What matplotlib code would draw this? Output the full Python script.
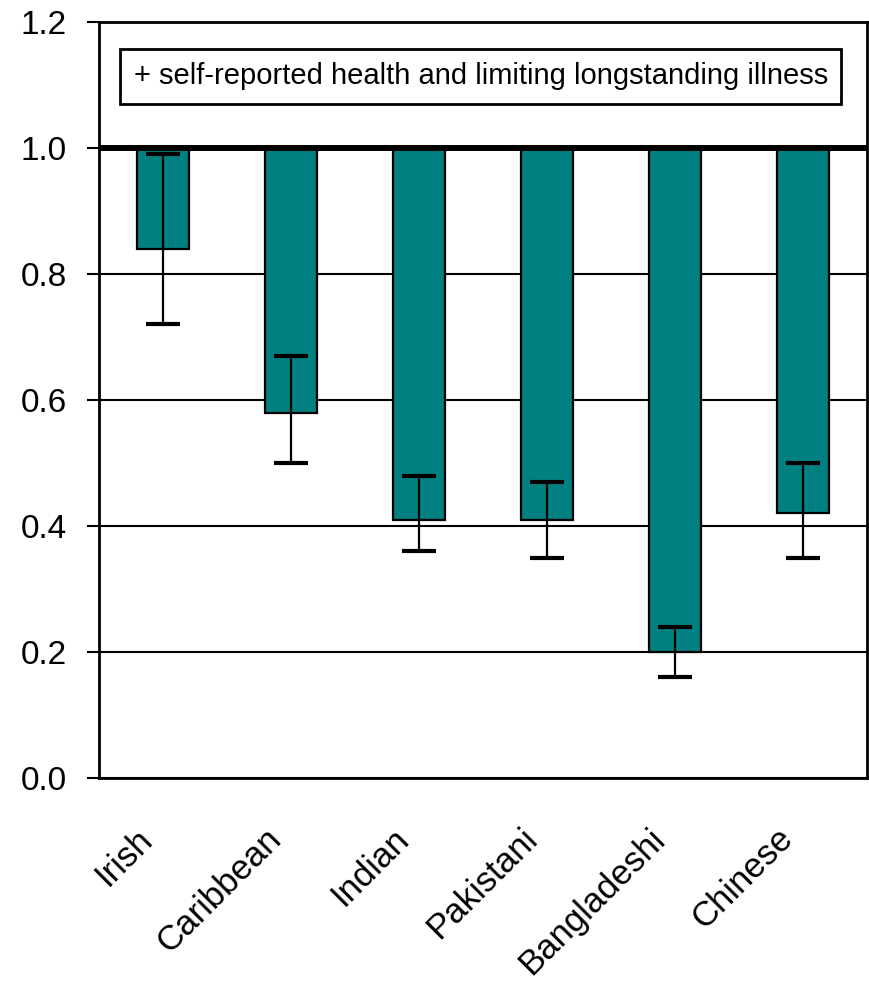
import matplotlib.pyplot as plt
from matplotlib.transforms import ScaledTranslation
import numpy as np

plt.rcParams['font.family'] = ['Liberation Sans', 'DejaVu Sans']

groups = ["Irish", "Caribbean", "Indian", "Pakistani", "Bangladeshi", "Chinese"]
ratio = [0.84, 0.58, 0.41, 0.41, 0.20, 0.42]
ci_low = [0.72, 0.50, 0.36, 0.35, 0.16, 0.35]
ci_high = [0.99, 0.67, 0.48, 0.47, 0.24, 0.50]
legend_text = "+ self-reported health and limiting longstanding illness"

fig = plt.figure(figsize=(8.69, 9.81), dpi=100)
ax = fig.add_axes([99 / 869, 1 - 778 / 981, 768 / 869, 756 / 981])

x = np.arange(len(groups))
ratio = np.array(ratio)
heights = 1.0 - ratio
ax.bar(x, heights, bottom=ratio, width=0.405, color="#008080",
       edgecolor="black", linewidth=1.6, zorder=3)

# error bars: caps ~33px wide
yerr = [ratio - np.array(ci_low), np.array(ci_high) - ratio]
ax.errorbar(x, ratio, yerr=yerr, fmt="none", ecolor="black",
            elinewidth=1.6, capsize=12, capthick=3, zorder=4)

ax.axhline(1.0, color="black", linewidth=4.3, zorder=5)

ax.set_xlim(-0.5, len(groups) - 0.5)
ax.set_ylim(0, 1.2)
ax.set_yticks([0.0, 0.2, 0.4, 0.6, 0.8, 1.0, 1.2])
ax.set_yticklabels(["0.0", "0.2", "0.4", "0.6", "0.8", "1.0", "1.2"])
ax.yaxis.grid(True, color="black", linewidth=1.5, zorder=0)
ax.set_axisbelow(True)
ax.tick_params(axis="y", direction="out", length=9, width=1.5, labelsize=24, pad=14)
ax.tick_params(axis="x", length=0, labelsize=25, pad=10)
ax.set_xticks(x)
ax.set_xticklabels(groups, rotation=45, ha="right", rotation_mode="anchor")
shift = ScaledTranslation(-0.27, -0.30, fig.dpi_scale_trans)
for lab in ax.get_xticklabels():
    lab.set_transform(lab.get_transform() + shift)

for s in ax.spines.values():
    s.set_linewidth(2)

ax.text(0.497, 0.928, legend_text, transform=ax.transAxes, ha="center", va="center",
        fontsize=21, bbox=dict(boxstyle="square,pad=0.45", fc="white", ec="black", lw=2),
        zorder=6)

fig.savefig("out.png", dpi=100)
